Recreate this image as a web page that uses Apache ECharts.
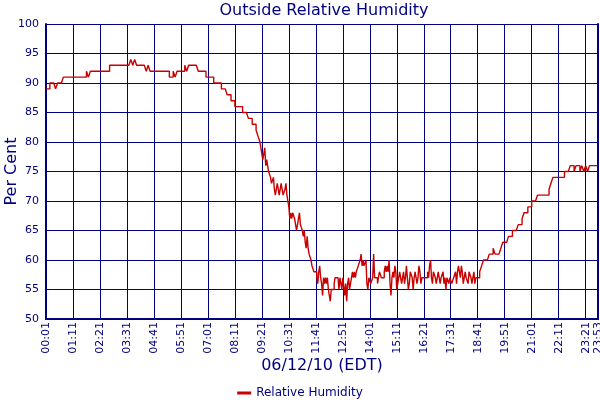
<!DOCTYPE html>
<html>
<head>
<meta charset="utf-8">
<script src="https://cdn.jsdelivr.net/npm/echarts@6/dist/echarts.min.js"></script>
<style>
  html, body { margin: 0; padding: 0; background: #fff; }
  #chart { width: 600px; height: 400px; }
</style>
</head>
<body>
<div id="chart"></div>
<script>
// 00:01 - 09:16, one reading every 5 minutes (rows = 70-minute grid blocks)
var nightStep = 5;
var nightHumidity = [
  89,89,90,90,90,89,90,90,90,91,91,91,91,91,   // 00:01
  91,91,91,91,91,91,91,92,91,92,92,92,92,92,   // 01:11
  92,92,92,92,92,93,93,93,93,93,93,93,93,93,   // 02:21
  93,93,94,93,94,93,93,93,93,93,92,93,92,92,   // 03:31
  92,92,92,92,92,92,92,92,91,91,92,91,92,92,   // 04:41
  92,92,93,92,93,93,93,93,93,92,92,92,92,91,   // 05:51
  91,91,91,90,90,90,90,89,89,89,88,88,87,87,   // 07:01
  86,86,86,86,85,85,85,84,84,83,83,82,81,80    // 08:11
];

// 09:21 - 18:38, one reading every 2.5 minutes
var dayStart = 560;
var dayStep = 2.5;
var dayHumidity = [
  78,77,78,79,76,77,76,75,75,74,73,73,74,72,71,72,73,72,71,72,73,72,71,71,72,73,71,70,   // 09:21
  69,67,68,67,68,68,67,66,65,66,67,68,66,66,65,64,65,63,62,64,62,61,61,60,59,59,58,58,   // 10:31
  58,57,56,58,59,57,56,54,57,56,57,56,57,55,55,53,55,55,55,56,57,57,57,57,55,57,57,55,   // 11:41
  57,57,54,56,53,56,57,55,56,57,58,57,58,57,58,58,59,59,60,61,59,60,59,59,60,56,55,57,   // 12:51
  57,56,56,57,61,57,57,57,56,56,58,58,57,57,57,58,59,58,59,58,60,56,54,57,58,57,59,58,   // 14:01
  55,56,57,58,58,56,57,58,56,57,59,57,55,56,58,58,57,55,57,58,57,56,57,59,58,56,57,57,   // 15:11
  57,57,57,57,58,57,59,60,57,56,58,58,57,56,57,58,58,56,57,57,58,56,57,55,57,57,56,57,   // 16:21
  57,56,56,57,57,58,56,58,59,58,57,59,58,56,57,58,57,57,56,58,58,57,56,57,58,56,57,57    // 17:31
];

// 18:41 - 23:51, one reading every 5 minutes
var eveningStart = 1120;
var eveningStep = 5;
var eveningHumidity = [
  57,58,59,60,60,60,61,61,62,61,61,61,62,63,   // 18:41
  63,63,64,64,65,65,65,66,66,67,68,68,69,69,   // 19:51
  70,70,70,71,71,71,71,71,71,72,73,74,74,74,   // 21:01
  74,74,74,75,75,75,76,76,75,76,76,75,76,75,   // 22:11
  76,75,76,76,76,76,76                         // 23:21
];

var lastMinute = 1432;   // 23:53
var tickMinutes = 70;
var startHour = 0, startMin = 1;

var navy = '#000080';
var font = 'DejaVu Sans';

function clock(offset) {
  var t = startHour * 60 + startMin + Math.round(offset);
  var h = Math.floor(t / 60), m = t % 60;
  return (h < 10 ? '0' : '') + h + ':' + (m < 10 ? '0' : '') + m;
}

var points = [];
nightHumidity.forEach(function (v, i) { points.push([i * nightStep, v]); });
dayHumidity.forEach(function (v, i) { points.push([dayStart + i * dayStep, v]); });
eveningHumidity.forEach(function (v, i) { points.push([eveningStart + i * eveningStep, v]); });

var myChart = echarts.init(document.getElementById('chart'));
var option = {
  backgroundColor: '#fff',
  animation: false,
  title: {
    text: 'Outside Relative Humidity',
    left: 319, top: -2,
    textAlign: 'center',
    textStyle: { color: navy, fontFamily: font, fontSize: 16, fontWeight: 'normal' }
  },
  legend: {
    data: ['Relative Humidity'],
    left: 'center', top: 382,
    icon: 'rect', itemWidth: 14, itemHeight: 3, itemGap: 4,
    textStyle: { color: navy, fontFamily: font, fontSize: 12 }
  },
  grid: { left: 46, right: 2, top: 24, bottom: 81, containLabel: false, outerBoundsMode: 'none' },
  xAxis: {
    type: 'value',
    min: 0, max: lastMinute, interval: tickMinutes,
    name: '06/12/10 (EDT)',
    nameLocation: 'middle', nameGap: 39, nameMoveOverlap: false,
    nameTextStyle: { color: navy, fontFamily: font, fontSize: 16 },
    axisLine: { show: true, lineStyle: { color: navy, width: 2 } },
    axisTick: { show: false },
    splitLine: { show: true, lineStyle: { color: navy, width: 1 } },
    axisLabel: {
      rotate: 90, margin: 3,
      color: navy, fontFamily: font, fontSize: 11,
      showMinLabel: true, showMaxLabel: true,
      formatter: function (v) { return clock(v); }
    }
  },
  yAxis: [{
    type: 'value',
    min: 50, max: 100, interval: 5,
    name: 'Per Cent',
    nameLocation: 'middle', nameGap: 26, nameMoveOverlap: false,
    nameTextStyle: { color: navy, fontFamily: font, fontSize: 16 },
    axisLine: { show: true, lineStyle: { color: navy, width: 2 } },
    axisTick: { show: false },
    splitLine: { show: true, lineStyle: { color: navy, width: 1 } },
    axisLabel: { margin: 7, color: navy, fontFamily: font, fontSize: 11 }
  }, {
    type: 'value',
    position: 'right',
    min: 50, max: 100, interval: 5,
    axisLine: { show: true, lineStyle: { color: navy, width: 2 } },
    axisTick: { show: false },
    axisLabel: { show: false },
    splitLine: { show: false }
  }],
  series: [{
    name: 'Relative Humidity',
    type: 'line',
    step: 'end',
    showSymbol: false,
    data: points,
    color: '#c80000',
    lineStyle: { color: '#c80000', width: 1.4 }
  }]
};
myChart.setOption(option);
</script>
</body>
</html>
